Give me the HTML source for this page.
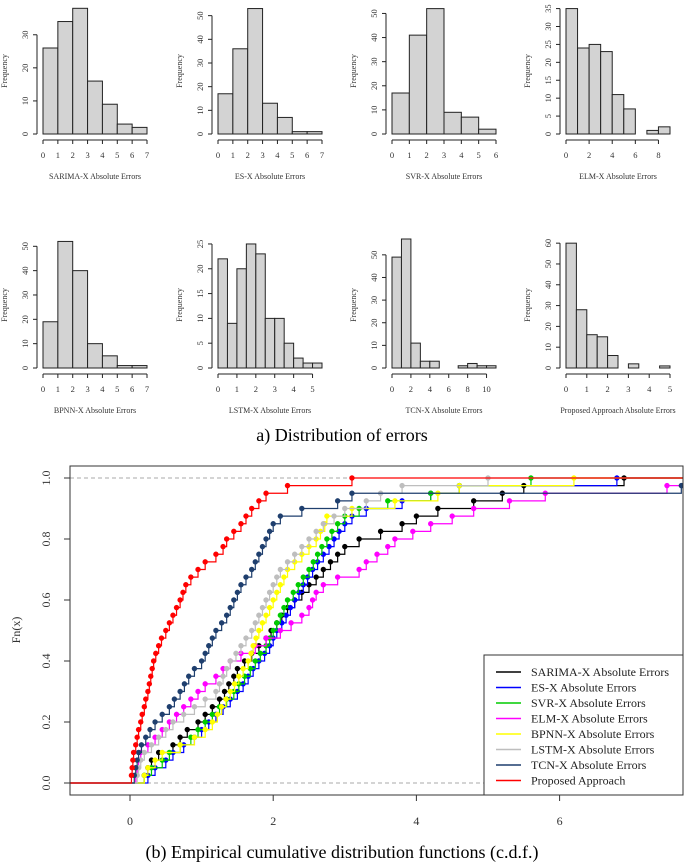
<!DOCTYPE html>
<html><head><meta charset="utf-8"><style>
body{margin:0;background:#fff;}
svg{display:block;font-family:"Liberation Serif",serif;}
</style></head><body>
<svg id="fig" width="685" height="863" viewBox="0 0 685 863" xmlns="http://www.w3.org/2000/svg">
<text x="342" y="441" font-size="18" text-anchor="middle">a) Distribution of errors</text>
<text x="342" y="858" font-size="18" text-anchor="middle">(b) Empirical cumulative distribution functions (c.d.f.)</text>
</svg>
<script>
// ---- Histogram data ----
const histTitles = ["SARIMA-X Absolute Errors","ES-X Absolute Errors","SVR-X Absolute Errors","ELM-X Absolute Errors","BPNN-X Absolute Errors","LSTM-X Absolute Errors","TCN-X Absolute Errors","Proposed Approach Absolute Errors"];
const histCounts = [
  [26,34,38,16,9,3,2],
  [17,36,53,13,7,1,1],
  [17,41,52,9,7,2],
  [35,24,25,23,11,7,0,1,2],
  [19,52,40,10,5,1,1],
  [22,9,20,25,23,10,10,5,2,1,1],
  [49,57,11,3,3,0,0,1,2,1,1],
  [60,28,16,15,6,0,2,0,0,1]
];
const histBinWidth = [1,1,1,1,1,0.5,1,0.5];
const histXTicks = [[0,1,2,3,4,5,6,7],[0,1,2,3,4,5,6,7],[0,1,2,3,4,5,6],[0,2,4,6,8],[0,1,2,3,4,5,6,7],[0,1,2,3,4,5],[0,2,4,6,8,10],[0,1,2,3,4,5]];
const histYTicks = [[0,10,20,30],[0,10,20,30,40,50],[0,10,20,30,40,50],[0,5,10,15,20,25,30,35],[0,10,20,30,40,50],[0,5,10,15,20,25],[0,10,20,30,40,50],[0,10,20,30,40,50,60]];
const histYMax = [39,54.5,53.5,36,53,26,57,62];

// ---- ECDF data (sorted values) ----
const ecdfNames = ["SARIMA-X Absolute Errors","ES-X Absolute Errors","SVR-X Absolute Errors","ELM-X Absolute Errors","BPNN-X Absolute Errors","LSTM-X Absolute Errors","TCN-X Absolute Errors","Proposed Approach"];
const ecdfColors = ["#000000","#0000ff","#00cc00","#ff00ff","#ffff00","#bebebe","#1f3f6e","#ff0000"];
const sarimaVals = [0.2,0.25,0.3,0.4,0.6,0.7,0.8,0.95,1.05,1.15,1.25,1.32,1.38,1.45,1.5,1.6,1.7,1.8,1.9,1.97,2.05,2.12,2.2,2.3,2.4,2.5,2.6,2.7,2.8,2.9,3.0,3.2,3.5,3.8,4.0,4.3,4.8,5.2,5.5,6.9];
const esVals = [0.25,0.35,0.5,0.6,0.75,0.9,1.0,1.1,1.2,1.3,1.4,1.5,1.58,1.65,1.72,1.8,1.88,1.95,2.0,2.05,2.12,2.18,2.24,2.3,2.36,2.42,2.48,2.55,2.62,2.7,2.78,2.85,2.92,3.0,3.1,3.3,3.8,4.2,4.6,6.8];
const svrVals = [0.2,0.3,0.45,0.55,0.7,0.85,0.95,1.05,1.15,1.25,1.35,1.45,1.52,1.6,1.68,1.75,1.82,1.9,1.95,2.0,2.05,2.1,2.15,2.2,2.28,2.35,2.42,2.5,2.56,2.62,2.68,2.75,2.82,2.9,3.0,3.2,3.6,4.2,4.6,5.6];
const elmVals = [0.08,0.1,0.12,0.15,0.25,0.35,0.45,0.55,0.65,0.75,0.85,0.95,1.05,1.2,1.3,1.4,1.55,1.75,1.9,2.1,2.25,2.4,2.5,2.55,2.6,2.7,2.9,3.2,3.3,3.45,3.6,3.7,3.95,4.2,4.5,4.8,5.3,5.8,7.5,8.5];
const bpnnVals = [0.2,0.25,0.35,0.45,0.7,0.9,1.05,1.15,1.22,1.28,1.34,1.4,1.46,1.52,1.58,1.65,1.69,1.72,1.76,1.8,1.85,1.9,1.95,2.0,2.05,2.1,2.15,2.2,2.3,2.4,2.5,2.6,2.66,2.72,2.75,3.1,3.7,4.3,4.6,6.2];
const lstmVals = [0.1,0.12,0.15,0.2,0.3,0.4,0.5,0.6,0.75,0.9,1.05,1.2,1.25,1.3,1.35,1.4,1.48,1.55,1.62,1.7,1.75,1.8,1.85,1.9,1.95,2.0,2.05,2.1,2.2,2.3,2.4,2.5,2.6,2.7,2.85,3.0,3.3,3.5,3.8,5.0];
const tcnVals = [0.06,0.08,0.1,0.12,0.16,0.22,0.28,0.35,0.45,0.55,0.62,0.7,0.76,0.82,0.9,1.0,1.05,1.1,1.15,1.2,1.28,1.35,1.4,1.45,1.5,1.55,1.62,1.7,1.75,1.8,1.85,1.9,1.95,2.0,2.1,2.4,2.9,3.1,7.7,9.0];
const propVals = [0.02,0.03,0.04,0.05,0.08,0.1,0.12,0.15,0.17,0.2,0.22,0.25,0.27,0.29,0.31,0.33,0.36,0.4,0.44,0.5,0.55,0.6,0.65,0.7,0.74,0.78,0.85,0.95,1.05,1.2,1.3,1.35,1.45,1.55,1.62,1.7,1.8,1.9,2.2,3.1];
const ecdfSeries = [sarimaVals,esVals,svrVals,elmVals,bpnnVals,lstmVals,tcnVals,propVals];
const ecdfXTicks = [0,2,4,6];
const ecdfYTicks = [0,0.2,0.4,0.6,0.8,1.0];

const NS = "http://www.w3.org/2000/svg";
const svg = document.getElementById("fig");
function mk(tag, attrs, parent){
  const e = document.createElementNS(NS, tag);
  for (const k in attrs) e.setAttribute(k, attrs[k]);
  (parent||svg).appendChild(e);
  return e;
}

// ---- Histograms ----
const colX = [43,218,392,566];
const rowBase = [134,368];
const pw = 104;
histCounts.forEach((counts, i) => {
  const g = mk("g", {});
  
  
  const x0 = colX[i%4], base = rowBase[Math.floor(i/4)];
  const bw = histBinWidth[i];
  const xmaxv = counts.length * bw;
  const sx = v => x0 + v / xmaxv * pw;
  const sy = v => base - v / histYMax[i] * 129;
  counts.forEach((c, j) => {
    const r = mk("rect", {x: sx(j*bw), y: sy(c), width: sx((j+1)*bw)-sx(j*bw), height: base - sy(c), fill: "#d3d3d3", stroke: "#222", "stroke-width": 1}, g);
    
    
  });
  const tk = histXTicks[i];
  mk("line", {x1: sx(tk[0]), x2: sx(tk[tk.length-1]), y1: base+6, y2: base+6, stroke: "#222"}, g);
  tk.forEach(t => {
    mk("line", {x1: sx(t), x2: sx(t), y1: base+6, y2: base+10, stroke: "#222"}, g);
    const tx = mk("text", {x: sx(t), y: base+24, "font-size": 8.5, "text-anchor": "middle", fill: "#333"}, g);
    tx.textContent = t;
  });
  const yt = histYTicks[i];
  mk("line", {x1: x0-6, x2: x0-6, y1: sy(yt[0]), y2: sy(yt[yt.length-1]), stroke: "#222"}, g);
  yt.forEach(t => {
    mk("line", {x1: x0-10, x2: x0-6, y1: sy(t), y2: sy(t), stroke: "#222"}, g);
    const tx = mk("text", {x: x0-15, y: sy(t), "font-size": 8.5, "text-anchor": "middle", fill: "#333", transform: `rotate(-90 ${x0-15} ${sy(t)})`}, g);
    tx.textContent = t;
  });
  const yl = mk("text", {x: x0-36, y: base-63, "font-size": 8, "text-anchor": "middle", fill: "#333", transform: `rotate(-90 ${x0-36} ${base-63})`}, g);
  yl.textContent = "Frequency";
  const xl = mk("text", {x: x0+pw/2, y: base+45, "font-size": 8, "text-anchor": "middle", fill: "#333"}, g);
  xl.textContent = histTitles[i];
});

// ---- ECDF plot ----
const L=70, R=683, T=466, B=795;
const ex = v => 130 + v * 71.6;
const ey = v => 783 - v * 305;
const eg = mk("g", {});


const clip = mk("clipPath", {id: "cp"}, eg);
mk("rect", {x: L, y: T, width: R-L, height: B-T}, clip);
[0,1].forEach(v => mk("line", {x1: L, x2: R, y1: ey(v), y2: ey(v), stroke: "#aaa", "stroke-dasharray": "4,3"}, eg));
const plotG = mk("g", {"clip-path": "url(#cp)"}, eg);
ecdfSeries.forEach((vals, s) => {
  const n = vals.length;
  const sg = mk("g", {}, plotG);
  
  
  let d = `M${L} ${ey(0)} L${ex(vals[0])} ${ey(0)}`;
  vals.forEach((v, k) => {
    d += ` L${ex(v)} ${ey((k+1)/n)}`;
    if (k+1 < n) d += ` L${ex(vals[k+1])} ${ey((k+1)/n)}`;
    else d += ` L${R} ${ey(1)}`;
  });
  const p = mk("path", {d: d, fill: "none", stroke: ecdfColors[s], "stroke-width": 1.2}, sg);
  
  
  vals.forEach((v, k) => {
    const c = mk("circle", {cx: ex(v), cy: ey((k+1)/n), r: 2.7, fill: ecdfColors[s]}, sg);
    
    
  });
});
mk("rect", {x: L, y: T, width: R-L, height: B-T, fill: "none", stroke: "#333", "stroke-width": 1}, eg);
ecdfXTicks.forEach(t => {
  mk("line", {x1: ex(t), x2: ex(t), y1: B, y2: B+6, stroke: "#333"}, eg);
  const tx = mk("text", {x: ex(t), y: B+30, "font-size": 12, "text-anchor": "middle", fill: "#333"}, eg);
  tx.textContent = t;
});
ecdfYTicks.forEach(t => {
  mk("line", {x1: L-6, x2: L, y1: ey(t), y2: ey(t), stroke: "#333"}, eg);
  const ty = mk("text", {x: L-20, y: ey(t), "font-size": 12, "text-anchor": "middle", fill: "#333", transform: `rotate(-90 ${L-20} ${ey(t)})`}, eg);
  ty.textContent = t.toFixed(1);
});
const yl = mk("text", {x: 20, y: 630, "font-size": 12, "text-anchor": "middle", fill: "#333", transform: "rotate(-90 20 630)"}, eg);
yl.textContent = "Fn(x)";
const lg = mk("g", {}, eg);


mk("rect", {x: 484, y: 655, width: 199, height: 140, fill: "#fff", stroke: "#333"}, lg);
ecdfNames.forEach((nm, i) => {
  const y = 672 + i * 15.5;
  const e = mk("g", {}, lg);
  
  
  mk("line", {x1: 496, x2: 521, y1: y, y2: y, stroke: ecdfColors[i], "stroke-width": 1.5}, e);
  const t = mk("text", {x: 531, y: y+4, "font-size": 12, fill: "#222"}, e);
  t.textContent = nm;
});
</script>
</body></html>
